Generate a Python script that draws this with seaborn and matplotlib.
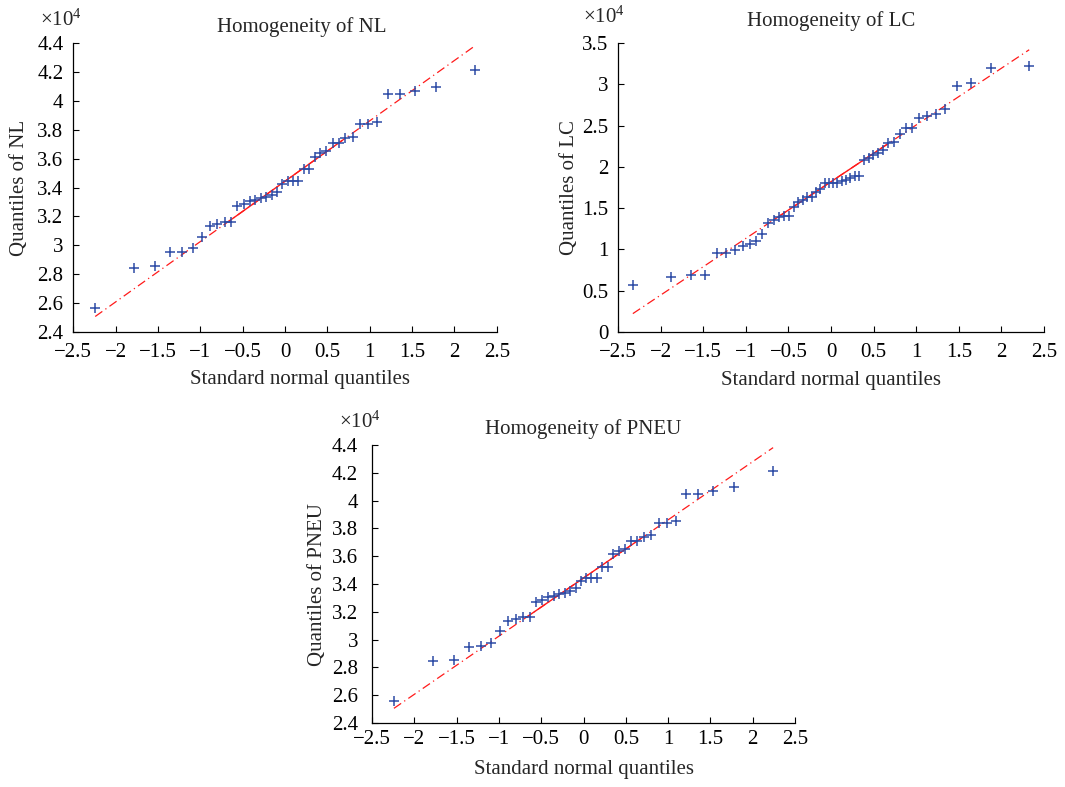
import numpy as np
import matplotlib
matplotlib.use('Agg')
import matplotlib.pyplot as plt
import seaborn as sns
from matplotlib.ticker import FuncFormatter

sns.set_style('ticks')
plt.rcParams['font.family'] = ['Liberation Serif', 'DejaVu Serif']
plt.rcParams['mathtext.fontset'] = 'custom'
plt.rcParams['mathtext.rm'] = 'Liberation Serif'

# theoretical normal quantiles
q40 = [-2.241, -1.781, -1.534, -1.356, -1.213, -1.092, -0.984, -0.887, -0.798, -0.714,
       -0.636, -0.561, -0.489, -0.419, -0.352, -0.286, -0.221, -0.157, -0.094, -0.031,
       0.031, 0.094, 0.157, 0.221, 0.286, 0.352, 0.419, 0.489, 0.561, 0.636,
       0.714, 0.798, 0.887, 0.984, 1.092, 1.213, 1.356, 1.534, 1.781, 2.241]
q50 = [-2.326, -1.881, -1.645, -1.476, -1.341, -1.227, -1.126, -1.036, -0.954, -0.878,
       -0.806, -0.739, -0.674, -0.613, -0.553, -0.496, -0.440, -0.385, -0.332, -0.279,
       -0.228, -0.176, -0.126, -0.075, -0.025, 0.025, 0.075, 0.126, 0.176, 0.228,
       0.279, 0.332, 0.385, 0.440, 0.496, 0.553, 0.613, 0.674, 0.739, 0.806,
       0.878, 0.954, 1.036, 1.126, 1.227, 1.341, 1.476, 1.645, 1.881, 2.326]

# sorted sample values
nl = [25620, 28440, 28550, 29500, 29550, 29780, 30590, 31350, 31470, 31610,
      31610, 32720, 32830, 33060, 33130, 33250, 33360, 33480, 33710, 34220,
      34460, 34460, 34460, 35260, 35260, 36140, 36370, 36530, 37110, 37110,
      37410, 37530, 38400, 38400, 38520, 40460, 40510, 40720, 40990, 42150]
lc = [5720, 6650, 6930, 6930, 9550, 9630, 9950, 10440, 10680, 11000,
      11890, 13170, 13580, 13980, 14100, 14100, 15110, 15790, 16000, 16320,
      16400, 17000, 17280, 18090, 18090, 18090, 18090, 18290, 18410, 18610,
      18900, 18900, 20830, 21030, 21390, 21720, 22040, 22840, 23050, 23930,
      24660, 24740, 25870, 26190, 26390, 26990, 29850, 30180, 32030, 32230]
pneu = list(nl)

x_ticks = np.arange(-2.5, 2.51, 0.5)

blue = '#2d4ca6'
red = '#ff1a1a'


def fmt(v, pos):
    s = '%g' % round(v, 2)
    return s.replace('-', '\u2212')


def qq_panel(ax, xq, vals, name, ylim, yticks, title_xy, label_x, xlabel_y,
             ylabel_x, x10_xy, xpad, ypad):
    x = np.array(xq)
    y = np.array(vals) / 1e4
    # reference line through the quartiles (as in MATLAB qqplot)
    qx1, qx3 = np.percentile(x, [25, 75], method='hazen')
    qy1, qy3 = np.percentile(y, [25, 75], method='hazen')
    slope = (qy3 - qy1) / (qx3 - qx1)
    mid_x = (qx1 + qx3) / 2
    mid_y = (qy1 + qy3) / 2
    ends = np.array([x[0], x[-1]])
    ax.plot(ends, mid_y + slope * (ends - mid_x), color=red, lw=0.9,
            linestyle=(0, (7, 3, 1, 3)), zorder=1)
    quart = np.array([qx1, qx3])
    ax.plot(quart, mid_y + slope * (quart - mid_x), color=red, lw=1.0, zorder=2)
    sns.scatterplot(x=x, y=y, ax=ax, marker='+', color=blue, s=55,
                    linewidth=1.1, zorder=3)

    ax.set_xlim(-2.5, 2.5)
    ax.set_ylim(*ylim)
    ax.set_xticks(x_ticks)
    ax.set_yticks(yticks)
    ax.xaxis.set_major_formatter(FuncFormatter(fmt))
    ax.yaxis.set_major_formatter(FuncFormatter(fmt))
    ax.tick_params(direction='in', length=4, width=0.8, labelsize=15,
                   colors='black')
    ax.tick_params(axis='x', pad=xpad)
    ax.tick_params(axis='y', pad=ypad)
    for side in ['top', 'right']:
        ax.spines[side].set_visible(False)
    for side in ['left', 'bottom']:
        ax.spines[side].set_linewidth(0.9)
        ax.spines[side].set_color('black')

    ax.text(title_xy[0], title_xy[1], 'Homogeneity of ' + name,
            transform=ax.transAxes, ha='center', va='center', fontsize=15)
    ax.set_xlabel('Standard normal quantiles', fontsize=15, va='center')
    ax.xaxis.set_label_coords(label_x, xlabel_y)
    ax.set_ylabel('Quantiles of ' + name, fontsize=15, va='center')
    ax.yaxis.set_label_coords(ylabel_x, 0.5)
    ax.text(x10_xy[0], x10_xy[1], r'$\mathregular{\times10^{4}}$',
            transform=ax.transAxes, ha='left', va='baseline', fontsize=15)


fig = plt.figure(figsize=(10.65, 7.87), dpi=100)
ax1 = fig.add_axes([0.0688, 0.5785, 0.3976, 0.3665])
ax2 = fig.add_axes([0.5803, 0.5781, 0.4000, 0.3672])
ax3 = fig.add_axes([0.3493, 0.0813, 0.3972, 0.3532])

qq_panel(ax1, q40, nl, 'NL', (2.4, 4.4), np.arange(2.4, 4.41, 0.2),
         (0.539, 1.056), 0.536, -0.164, -0.126, (-0.079, 1.06), 8, 7)
qq_panel(ax2, q50, lc, 'LC', (0, 3.5), np.arange(0, 3.51, 0.5),
         (0.5, 1.075), 0.5, -0.166, -0.115, (-0.082, 1.069), 8, 7)
qq_panel(ax3, q40, pneu, 'PNEU', (2.4, 4.4), np.arange(2.4, 4.41, 0.2),
         (0.5, 1.058), 0.5, -0.169, -0.130, (-0.078, 1.061), 5, 10)

fig.savefig('out.png', dpi=100)
